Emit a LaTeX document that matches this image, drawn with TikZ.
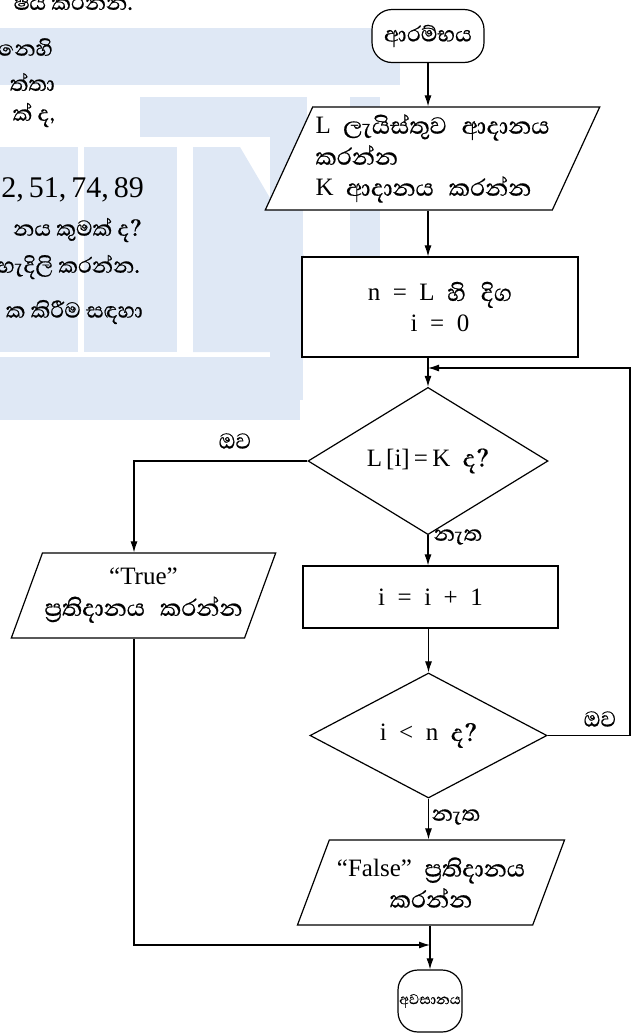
\documentclass[tikz,border=0pt]{standalone}
\usepackage{fontspec}
\setmainfont{Liberation Serif}
\newfontfamily\sinhalafont[Script=Sinhala,Scale=1.2,FakeBold=0.5]{Abhaya Libre}
\newcommand{\snh}[1]{{\sinhalafont #1}}
\usetikzlibrary{shapes.geometric,arrows.meta,positioning}
\definecolor{wmblue}{HTML}{DFE8F5}

\tikzset{
  flow/.style = {draw, line width=1.2pt, fill=white, font=\fontsize{25}{31}\selectfont},
  term/.style = {flow, rounded corners=20pt, inner sep=2pt},
  proc/.style = {flow, rectangle, align=center},
  io/.style = {flow, trapezium, trapezium stretches=true, inner sep=2pt},
  dec/.style = {flow, diamond, inner sep=0pt},
  lbl/.style = {font=\fontsize{23}{26}\selectfont},
  qtxt/.style = {anchor=east, inner sep=0pt, font=\fontsize{23}{30}\selectfont},
  arr/.style = {line width=1.1pt, -{Latex[length=11pt,width=7pt]}}
}

\begin{document}
\begin{tikzpicture}[x=1pt, y=-1pt]
  \useasboundingbox (0,0) rectangle (635,1034);

  % watermark behind the page
  \begin{scope}[wmblue]
    \fill (0,28) rectangle (400,85);
    \fill (140,97) rectangle (307,137);
    \fill (0,147) rectangle (78,352);
    \fill (84,147) rectangle (177,352);
    \fill (193,147) -- (240,147) -- (337,312) -- (300,352) -- (193,352) -- cycle;
    \fill (0,357) rectangle (300,420);
    \fill (270,97) rectangle (303,400);
    \fill (350,97) rectangle (380,333);
  \end{scope}

  % tail of the question text
  \node[qtxt] (q0) at (133,1) {\snh{ෂය කරන්න.}};
  \node[qtxt] (q1) at (53,47) {\snh{නෙහි}};
  \node[qtxt] (q2) at (55,82) {\snh{ත්තා}};
  \node[qtxt] (q3) at (55,115) {\snh{ක් ද,}};
  \node[qtxt, font=\fontsize{30}{34}\selectfont] (q4) at (144,190) {2,\,51,\,74,\,89};
  \node[qtxt] (q5) at (142,230) {\snh{නය කුමක් ද?}};
  \node[qtxt] (q6) at (140,267) {\snh{හැදිලි කරන්න.}};
  \node[qtxt] (q7) at (143,312) {\snh{ක කිරීම සඳහා}};

  % flowchart
  \node[term, minimum width=112pt, minimum height=53pt, font=\fontsize{23}{28}\selectfont] (start) at (428,36) {\snh{ආරම්භය}};
  \node[io, trapezium left angle=63, trapezium right angle=117,
        minimum width=335pt, minimum height=103pt, align=left] (inp) at (432.5,158.5)
        {L\enspace\snh{ලැයිස්තුව\enspace ආදානය}\\ \snh{කරන්න}\\ K\enspace\snh{ආදානය\enspace කරන්න}};
  \node[proc, minimum width=276pt, minimum height=100pt] (init) at (440,307)
        {n\enspace=\enspace L\enspace\snh{හි\enspace දිග}\\ i\enspace=\enspace 0};
  \node[dec, minimum width=240pt, minimum height=124pt] (chk) at (428,461)
        {L\,[i]\,=\,K\enspace\snh{ද?}};
  \node[proc, minimum width=255pt, minimum height=62pt] (inc) at (430.5,597)
        {i\enspace=\enspace i\enspace+\enspace 1};
  \node[dec, minimum width=237pt, minimum height=125pt] (cnt) at (428.5,735.5)
        {i\enspace<\enspace n\enspace\snh{ද?}};
  \node[io, trapezium left angle=62, trapezium right angle=118,
        minimum width=263pt, minimum height=85pt, align=center] (tru) at (143.5,595.5)
        {“True”\\ \snh{ප්^^^^200dරතිදානය\enspace කරන්න}};
  \node[io, trapezium left angle=61, trapezium right angle=119,
        minimum width=268pt, minimum height=85pt, align=center] (fls) at (431,882.5)
        {“False”\enspace\snh{ප්^^^^200dරතිදානය}\\ \snh{කරන්න}};
  \node[term, minimum width=64pt, minimum height=62pt, inner sep=1pt, font=\fontsize{15}{18}\selectfont] (stop) at (430,1001)
        {\snh{අවසානය}};

  % branch labels
  \node[lbl] (yes1) at (235,441) {\snh{ඔව}};
  \node[lbl] (no1) at (458,537) {\snh{නැත}};
  \node[lbl] (yes2) at (600,719) {\snh{ඔව}};
  \node[lbl] (no2) at (456,817) {\snh{නැත}};

  \coordinate (loop) at (630,368);
  \coordinate (tleft) at (134,461);
  \coordinate (merge) at (134,945);

  \draw [arr] (start.south) -- (start.south |- inp.north);
  \draw [arr] (chk.north |- inp.south) -- (chk.north |- init.north);
  \draw [arr] (chk.north |- init.south) -- (chk.north);
  \draw [arr] (chk.south) -- (chk.south |- inc.north);
  \draw [arr] (cnt.north |- inc.south) -- (cnt.north);
  \draw [arr] (cnt.south) -- (cnt.south |- fls.north);
  \draw [arr] (cnt.east) -| (loop) -- (loop -| chk.north);
  \draw [arr] (chk.west) -- (tleft) -- (tleft |- tru.north);
  \draw [arr] (tru.south -| merge) -- (merge) -- (merge -| stop.north);
  \draw [arr] (fls.south -| stop.north) -- (stop.north);

\end{tikzpicture}
\end{document}
